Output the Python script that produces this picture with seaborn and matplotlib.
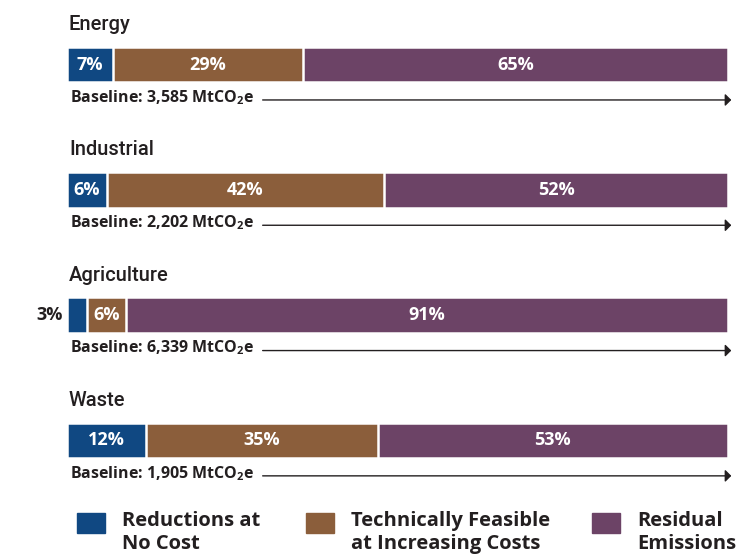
import pandas as pd
import matplotlib
matplotlib.use("Agg")
import matplotlib.pyplot as plt
import seaborn as sns

# Values (share of baseline, %)
sectors = ["Energy", "Industrial", "Agriculture", "Waste"]
baselines = ["3,585", "2,202", "6,339", "1,905"]
no_cost = [7, 6, 3, 12]
feasible = [29, 42, 6, 35]
residual = [65, 52, 91, 53]

series = ["Reductions at\nNo Cost", "Technically Feasible\nat Increasing Costs", "Residual\nEmissions"]
colors = ["#104882", "#8B5E3B", "#6C4366"]

sns.set_theme(style="white")
NARROW = ["Open Sans", "DejaVu Sans"]
plt.rcParams["font.family"] = NARROW
plt.rcParams["font.stretch"] = "condensed"
plt.rcParams["mathtext.fontset"] = "custom"
plt.rcParams["mathtext.rm"] = "Open Sans:bold:stretch=condensed"
plt.rcParams["mathtext.bf"] = "Open Sans:bold:stretch=condensed"
plt.rcParams["mathtext.it"] = "Open Sans:bold:stretch=condensed"

TXT = "#231F20"

df = pd.DataFrame({"sector": sectors, "no_cost": no_cost,
                   "feasible": feasible, "residual": residual})
cols = ["no_cost", "feasible", "residual"]
# bars are drawn as shares of each row's total
shares = df[cols].div(df[cols].sum(axis=1), axis=0) * 100
cum = shares.cumsum(axis=1)

fig = plt.figure(figsize=(7.55, 5.54), dpi=100)
ax = fig.add_axes([0, 0, 1, 1])

# stacked bars: draw the cumulative totals, longest first
for col, color in reversed(list(zip(cols, colors))):
    sns.barplot(x=cum[col], y=df["sector"], orient="h", color=color,
                saturation=1, width=0.283, edgecolor="white", linewidth=1.8, ax=ax)

# pixel mapping: 0% at x=67px, 100% at x=728px; rows every ~125px from y=64.5px
px = 661 / 100
ax.set_xlim(-67 / px, (755 - 67) / px)
ax.set_ylim((554 - 64.5) / 125.3, -64.5 / 125.3)
ax.axis("off")

for i, sec in enumerate(sectors):
    ax.text(0.3, i - 0.275, sec, ha="left", va="baseline", fontsize=14.5,
            fontweight="medium", color=TXT, family=["Roboto", "DejaVu Sans"],
            fontstretch="normal")
    left = 0
    for j, col in enumerate(cols):
        w = shares.loc[i, col]
        val = df.loc[i, col]
        if w < 4:
            ax.text(-0.6, i, f"{val}%", ha="right", va="center", fontsize=13,
                    fontweight="bold", color=TXT)
        else:
            ax.text(left + w / 2, i, f"{val}%", ha="center", va="center",
                    fontsize=13, fontweight="bold", color="white")
        left += w
    ax.text(0.45, i + 0.30, f"Baseline: {baselines[i]} MtCO$_2$e", ha="left",
            va="baseline", fontsize=11.5, fontweight="bold", color=TXT)
    ax.annotate("", xy=(100.5, i + 0.283), xytext=(29.6, i + 0.283),
                arrowprops=dict(arrowstyle="-|>,head_length=0.3,head_width=0.3",
                                lw=1, color=TXT, shrinkA=0, shrinkB=0))

# legend
sq_x = [77, 306, 592]
for x0, lab, color in zip(sq_x, series, colors):
    fig.patches.append(plt.Rectangle((x0 / 755, 1 - 533 / 554), 28 / 755, 20 / 554,
                                     transform=fig.transFigure, color=color))
    fig.text((x0 + 45) / 755, 1 - 511 / 554, lab, ha="left", va="top",
             fontsize=14.5, fontweight="bold", color=TXT, linespacing=1.17)

fig.savefig("out.png", dpi=100)
